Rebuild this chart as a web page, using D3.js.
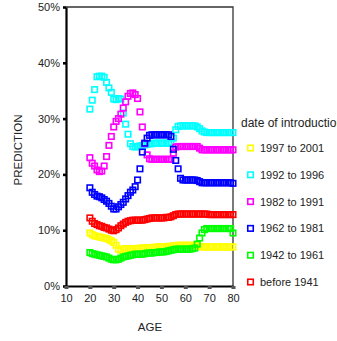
<!DOCTYPE html>
<html>
<head>
<meta charset="utf-8">
<script src="https://cdn.jsdelivr.net/npm/d3@7"></script>
<style>
	body { margin: 0; background: #fff; }
	svg { display: block; font-family: "Liberation Sans", Arial, sans-serif; }
</style>
</head>
<body>
<svg id="chart" width="337" height="341"></svg>
<script>
// ages on the x axis
const ages = [20, 21, 22, 23, 24, 25, 26, 27, 28, 29,
	30, 31, 32, 33, 34, 35, 36, 37, 38, 39,
	40, 41, 42, 43, 44, 45, 46, 47, 48, 49,
	50, 51, 52, 53, 54, 55, 56, 57, 58, 59,
	60, 61, 62, 63, 64, 65, 66, 67, 68, 69,
	70, 71, 72, 73, 74, 75, 76, 77, 78, 79, 80];

// predicted share (%) per date of introduction
const y1997to2001 = [9.5, 9.2, 9.0, 8.9, 8.8, 8.7, 8.6, 8.5, 8.3, 8.1,
	7.8, 7.3, 6.6, 6.4, 6.6, 6.7, 6.7, 6.7, 6.7, 6.7,
	6.7, 6.8, 6.8, 6.8, 6.8, 6.9, 6.9, 6.9, 7.0, 7.0,
	7.0, 7.0, 7.0, 7.1, 7.1, 7.2, 7.2, 7.3, 7.3, 7.3,
	7.3, 7.3, 7.3, 7.3, 7.3, 7.2, 7.1, 7.0, 7.0, 7.0,
	7.0, 7.0, 7.0, 7.0, 7.0, 7.0, 7.0, 7.0, 7.0, 7.0, 7.0];
const y1992to1996 = [31.7, 33.3, 35.2, 37.5, 37.6, 37.6, 37.4, 36.5, 35.5, 34.7,
	33.5, 33.4, 33.6, 33.5, 31.0, 29.0, 27.2, 25.5, 25.0, 24.9,
	25.0, 25.1, 25.2, 25.3, 25.4, 25.5, 25.5, 25.6, 25.6, 25.6,
	25.6, 25.6, 25.6, 25.6, 25.7, 26.5, 28.0, 28.6, 28.7, 28.7,
	28.7, 28.7, 28.7, 28.7, 28.7, 28.5, 28.2, 27.8, 27.6, 27.5,
	27.5, 27.5, 27.5, 27.5, 27.5, 27.5, 27.5, 27.5, 27.5, 27.5, 27.5];
const y1982to1991 = [23.0, 22.0, 21.5, 20.8, 20.5, 20.6, 21.5, 23.2, 25.2, 26.8,
	28.5, 29.5, 30.0, 30.8, 31.9, 33.0, 34.0, 34.5, 34.6, 34.3,
	33.6, 31.2, 28.5, 25.5, 23.5, 22.8, 22.7, 22.7, 22.7, 22.7,
	22.7, 22.7, 22.7, 22.7, 22.7, 23.8, 24.9, 25.0, 25.0, 25.0,
	25.0, 25.0, 25.0, 25.0, 25.0, 25.0, 24.7, 24.4, 24.4, 24.4,
	24.4, 24.4, 24.4, 24.4, 24.4, 24.4, 24.4, 24.4, 24.4, 24.4, 24.4];
const y1962to1981 = [17.6, 16.8, 16.4, 16.1, 16.0, 15.8, 15.5, 15.2, 14.8, 14.3,
	13.8, 13.8, 14.2, 14.6, 15.0, 15.6, 16.2, 16.8, 17.2, 17.8,
	19.0, 21.0, 24.0, 25.6, 26.5, 27.0, 27.1, 27.1, 27.1, 27.1,
	27.1, 27.1, 27.1, 27.1, 26.8, 24.5, 22.5, 21.0, 19.3, 19.0,
	19.0, 19.0, 19.0, 19.0, 19.0, 18.9, 18.7, 18.5, 18.5, 18.5,
	18.5, 18.5, 18.5, 18.5, 18.5, 18.5, 18.5, 18.5, 18.5, 18.5, 18.4];
const y1942to1961 = [6.0, 5.8, 5.7, 5.6, 5.5, 5.4, 5.3, 5.2, 5.0, 4.8,
	4.7, 4.7, 4.8, 5.0, 5.2, 5.3, 5.4, 5.5, 5.6, 5.7,
	5.7, 5.7, 5.7, 5.8, 5.9, 5.9, 5.9, 6.0, 6.0, 6.1,
	6.1, 6.1, 6.2, 6.3, 6.4, 6.5, 6.6, 6.6, 6.6, 6.6,
	6.6, 6.6, 6.6, 6.7, 6.8, 7.5, 8.6, 9.5, 10.1, 10.3,
	10.3, 10.3, 10.3, 10.3, 10.3, 10.3, 10.3, 10.3, 10.3, 10.3, 9.5];
const yBefore1941 = [12.2, 11.6, 11.2, 11.0, 10.8, 10.7, 10.5, 10.4, 10.2, 10.0,
	9.9, 10.1, 10.4, 10.8, 11.1, 11.4, 11.6, 11.7, 11.8, 11.8,
	11.8, 11.8, 11.8, 11.9, 12.0, 12.1, 12.2, 12.2, 12.2, 12.2,
	12.2, 12.2, 12.3, 12.3, 12.4, 12.6, 12.8, 12.9, 12.9, 12.9,
	12.9, 12.9, 12.9, 12.9, 12.9, 12.9, 12.9, 12.9, 12.9, 12.9,
	12.8, 12.8, 12.8, 12.8, 12.8, 12.8, 12.8, 12.8, 12.8, 12.8, 12.8];

const seriesNames = ["1997 to 2001", "1992 to 1996", "1982 to 1991", "1962 to 1981", "1942 to 1961", "before 1941"];
const seriesValues = [y1997to2001, y1992to1996, y1982to1991, y1962to1981, y1942to1961, yBefore1941];
const seriesColors = ["#ffff00", "#00ffff", "#ff00ff", "#0000ff", "#00ff00", "#ff0000"];

const xTicks = [10, 20, 30, 40, 50, 60, 70, 80];
const yTicks = [0, 10, 20, 30, 40, 50];

const svg = d3.select("#chart");
const margin = { left: 66, top: 7, right: 233, bottom: 286 };
const markerSize = 5.5;

const xScale = d3.scaleLinear().domain([10, 80]).range([margin.left, margin.right]);
const yScale = d3.scaleLinear().domain([0, 50]).range([margin.bottom, margin.top]);

// frame: thin top and right, heavy left and bottom axes
svg.append("path")
	.attr("d", `M${margin.left},${margin.top}H${margin.right}V${margin.bottom}`)
	.attr("fill", "none")
	.attr("stroke", "#333")
	.attr("stroke-width", 1.3);

const yAxis = svg.append("g")
	.attr("transform", `translate(${margin.left},0)`)
	.call(d3.axisLeft(yScale).tickValues(yTicks).tickSize(3).tickSizeOuter(0).tickFormat(d => d + "%"));
yAxis.select(".domain").attr("stroke", "#000").attr("stroke-width", 2.2);
yAxis.selectAll(".tick line").attr("stroke", "#000").attr("stroke-width", 2.6);
yAxis.selectAll(".tick text")
	.attr("x", -6)
	.attr("fill", "#222")
	.style("font-size", "11px");

const xAxis = svg.append("g")
	.attr("transform", `translate(0,${margin.bottom})`)
	.call(d3.axisBottom(xScale).tickValues(xTicks).tickSize(3).tickSizeOuter(0));
xAxis.select(".domain").attr("stroke", "#000").attr("stroke-width", 2.2);
xAxis.selectAll(".tick line").attr("stroke", "#555").attr("stroke-width", 4);
xAxis.selectAll(".tick text")
	.attr("y", 8)
	.attr("fill", "#222")
	.style("font-size", "11px");

svg.append("text")
	.attr("transform", `translate(22,150) rotate(-90)`)
	.attr("text-anchor", "middle")
	.attr("fill", "#222")
	.style("font-size", "11.5px")
	.text("PREDICTION");

svg.append("text")
	.attr("x", 150)
	.attr("y", 331)
	.attr("text-anchor", "middle")
	.attr("fill", "#222")
	.style("font-size", "11.5px")
	.text("AGE");

// hollow square markers, one group per series
seriesValues.forEach((values, idx) => {
	svg.append("g")
		.attr("class", "series")
		.selectAll("rect")
		.data(values.map((v, i) => ({ age: ages[i], value: v })))
		.enter().append("rect")
			.attr("x", d => xScale(d.age) - markerSize / 2)
			.attr("y", d => yScale(d.value) - markerSize / 2)
			.attr("width", markerSize)
			.attr("height", markerSize)
			.attr("fill", "none")
			.attr("stroke", seriesColors[idx])
			.attr("stroke-width", 1.6);
});

// legend
const legend = svg.append("g").attr("transform", "translate(241,0)");
legend.append("text")
	.attr("x", 0)
	.attr("y", 127)
	.attr("fill", "#222")
	.style("font-size", "12px")
	.text("date of introduction");

seriesNames.forEach((name, idx) => {
	const cy = 148 + idx * 26.8;
	legend.append("rect")
		.attr("x", 9.5 - markerSize / 2)
		.attr("y", cy - markerSize / 2)
		.attr("width", markerSize)
		.attr("height", markerSize)
		.attr("fill", "none")
		.attr("stroke", seriesColors[idx])
		.attr("stroke-width", 1.6);
	legend.append("text")
		.attr("x", 19)
		.attr("y", cy + 4)
		.attr("fill", "#222")
		.style("font-size", "11px")
		.text(name);
});
</script>
</body>
</html>
